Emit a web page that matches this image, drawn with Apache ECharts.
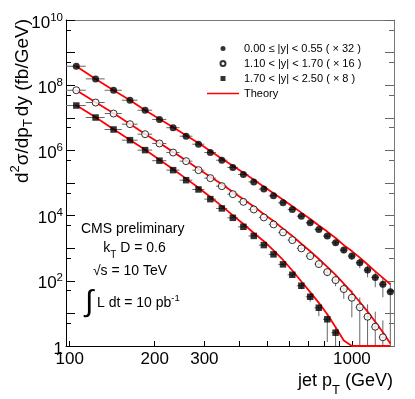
<!DOCTYPE html>
<html><head><meta charset="utf-8">
<script src="https://cdn.jsdelivr.net/npm/echarts@6/dist/echarts.min.js"></script>
<style>html,body{margin:0;padding:0;background:#fff}#c{width:415px;height:399px}</style>
</head><body><div id="c"></div>
<script>
// ---------- data ----------
const binEdges = [97,114,133,153,174,196,220,245,272,300,330,362,395,430,468,507,548,592,638,686,737,790,846,905,967,1032,1101,1172,1248,1327,1410];
const seriesNames = ['0.00 \u2264 |y| < 0.55 ( \u00d7 32 )','1.10 < |y| < 1.70 ( \u00d7 16 )','1.70 < |y| < 2.50 ( \u00d7 8 )'];
const theoryName = 'Theory';

const yCentral = [3.81e8,1.56e8,7.0e7,3.46e7,1.71e7,8.9e6,4.97e6,2.73e6,1.55e6,8.6e5,5.0e5,3.0e5,1.83e5,1.08e5,6.5e4,4.04e4,2.46e4,1.55e4,9.6e3,6.0e3,3.77e3,2.35e3,1.47e3,875,573,357,213,127,78,46];
const errCentralLo = [0.01,0.01,0.01,0.01,0.01,0.01,0.01,0.01,0.01,0.01,0.01,0.01,0.01,0.01,0.01,0.01,0.03,0.04,0.05,0.07,0.09,0.12,0.15,0.2,0.25,0.32,0.4,0.5,0.6,1.0];
const errCentralHi = [0.01,0.01,0.01,0.01,0.01,0.01,0.01,0.01,0.01,0.01,0.01,0.01,0.01,0.01,0.01,0.01,0.03,0.04,0.05,0.07,0.09,0.12,0.15,0.2,0.25,0.32,0.4,0.5,0.55,0.9];

const yMid = [7.0e7,2.94e7,1.35e7,6.37e6,3.14e6,1.63e6,8.6e5,4.68e5,2.48e5,1.41e5,8.0e4,4.55e4,2.64e4,1.55e4,8.8e3,5.37e3,3.05e3,1.77e3,986,573,326,185,105,55.8,30.2,15.4,7.9,3.9,1.85];
const errMidLo = [0.01,0.01,0.01,0.01,0.01,0.01,0.01,0.01,0.01,0.01,0.01,0.01,0.01,0.01,0.01,0.04,0.05,0.07,0.1,0.13,0.18,0.25,0.35,0.5,0.75,1,1,1,1];
const errMidHi = [0.01,0.01,0.01,0.01,0.01,0.01,0.01,0.01,0.01,0.01,0.01,0.01,0.01,0.01,0.01,0.04,0.05,0.07,0.1,0.13,0.18,0.25,0.35,0.5,0.7,1.0,1.4,1.9,2.3];

const yFwd = [2.38e7,1.02e7,4.38e6,2.06e6,1.02e6,4.84e5,2.48e5,1.22e5,6.34e4,3.2e4,1.66e4,8.55e3,4.53e3,2.38e3,1.245e3,646,319,153,70.5,32.4,14.9,6.6,2.56];
const errFwdLo = [0.01,0.01,0.01,0.01,0.01,0.01,0.01,0.01,0.01,0.01,0.01,0.01,0.01,0.03,0.05,0.07,0.1,0.15,0.22,0.3,0.45,0.8,1];
const errFwdHi = [0.01,0.01,0.01,0.01,0.01,0.01,0.01,0.01,0.01,0.01,0.01,0.01,0.01,0.03,0.05,0.07,0.1,0.15,0.22,0.3,0.45,0.5,0.6];

const thCentral = [3.81e8,1.556e8,7.01e7,3.46e7,1.71e7,9.18e6,5.15e6,2.87e6,1.69e6,9.53e5,5.57e5,3.38e5,2.08e5,1.25e5,7.62e4,4.85e4,3.05e4,1.95e4,1.234e4,7.85e3,5.0e3,3.23e3,2.06e3,1.245e3,815,515,317,195,123,78.3];
const thMid = [7.01e7,2.99e7,1.374e7,6.5e6,3.21e6,1.69e6,9.01e5,4.94e5,2.7e5,1.566e5,9.1e4,5.28e4,3.16e4,1.897e4,1.1e4,6.82e3,3.99e3,2.38e3,1.365e3,804,467,267,152,81.7,43.9,22.3,11.3,5.56,2.63,1.19];
const thFwd = [2.42e7,1.035e7,4.44e6,2.1e6,1.045e6,5.16e5,2.66e5,1.36e5,7.15e4,3.71e4,1.95e4,1.02e4,5.52e3,2.92e3,1.64e3,863,435,207,95.4,44.9,21.1,9.36,3.77,1.47,0.75,0.3,0.1,0.03,0.008,0.002];

const xTicks = [100,200,300,400,500,600,700,800,900,1000];
const xTickLabels = [100,200,300,1000];
const yDecadeTicks = [1,1e1,1e2,1e3,1e4,1e5,1e6,1e7,1e8,1e9,1e10];
const yHalfTicks = [5,5e1,5e2,5e3,5e4,5e5,5e6,5e7,5e8,5e9];
const yTickLabels = [1,1e2,1e4,1e6,1e8,1e10];

const X_MIN = 97, X_MAX = 1410, Y_MIN = 1, Y_MAX = 1e10;

// ---------- build ----------
const FONT = "'Liberation Sans', Arial, Helvetica, sans-serif";
function centers(n){ const c=[]; for(let i=0;i<n;i++) c.push((binEdges[i]+binEdges[i+1])/2); return c; }
function points(vals){ const c=centers(vals.length); return vals.map((v,i)=>[c[i],v]); }
function theoryPts(vals){ const c=centers(vals.length); return vals.map((v,i)=>[c[i],Math.max(v,Y_MIN)]); }
function errPts(vals, lo, hi){ const c=centers(vals.length); return vals.map((v,i)=>[c[i],v,binEdges[i],binEdges[i+1],v*(1-lo[i]),v*(1+hi[i])]); }

function errRender(params, api){
  const x=api.value(0), y=api.value(1), xl=api.value(2), xh=api.value(3);
  const yl=Math.max(api.value(4), Y_MIN), yh=api.value(5);
  const a=api.coord([xl,y]), b=api.coord([xh,y]), c=api.coord([x,yl]), d=api.coord([x,yh]);
  const st={stroke:'#666', lineWidth:1};
  return {type:'group', children:[
    {type:'line', shape:{x1:a[0],y1:a[1],x2:b[0],y2:b[1]}, style:st},
    {type:'line', shape:{x1:c[0],y1:c[1],x2:d[0],y2:d[1]}, style:st}
  ]};
}

const dataSets = [
  {name:seriesNames[0], vals:yCentral, lo:errCentralLo, hi:errCentralHi, th:thCentral, symbol:'circle', size:7, style:{color:'#000'}},
  {name:seriesNames[1], vals:yMid, lo:errMidLo, hi:errMidHi, th:thMid, symbol:'circle', size:7, style:{color:'#fff', borderColor:'#000', borderWidth:1}},
  {name:seriesNames[2], vals:yFwd, lo:errFwdLo, hi:errFwdHi, th:thFwd, symbol:'rect', size:6.5, style:{color:'#000'}}
];

const series = [];
dataSets.forEach(ds=>{
  series.push({type:'custom', name:ds.name+'_err', renderItem:errRender, data:errPts(ds.vals,ds.lo,ds.hi),
    encode:{x:0,y:1}, z:1, clip:true, silent:true, legendHoverLink:false});
});
dataSets.forEach(ds=>{
  series.push({type:'line', name:theoryName, data:theoryPts(ds.th), showSymbol:false, symbol:'none',
    lineStyle:{color:'#ff0000', width:1.8}, itemStyle:{color:'#ff0000'}, z:2, clip:true, animation:false});
});
dataSets.forEach(ds=>{
  series.push({type:'scatter', name:ds.name, data:points(ds.vals), symbol:ds.symbol, symbolSize:ds.size,
    itemStyle:ds.style, z:3, animation:false});
});

const axisCommon = {type:'log', logBase:10, splitLine:{show:false}, minorTick:{show:false}, minorSplitLine:{show:false}};

const option = {
  animation:false,
  backgroundColor:'#fff',
  grid:{left:66, top:20, right:21, bottom:53, containLabel:false},
  legend:{orient:'vertical', left:202, top:36, itemWidth:32, itemHeight:5, itemGap:0, selectedMode:false,
    textStyle:{fontFamily:FONT, fontSize:11, color:'#000', lineHeight:15},
    data:[
      {name:seriesNames[0], icon:'circle'},
      {name:seriesNames[1], icon:'circle'},
      {name:seriesNames[2], icon:'path://M0,0h10v10h-10z'},
      {name:theoryName, icon:'path://M0,0h64v3h-64z'}
    ]},
  xAxis:[
    Object.assign({}, axisCommon, {min:X_MIN, max:X_MAX, position:'bottom',
      axisLine:{show:true, onZero:false, lineStyle:{color:'#000', width:1}},
      axisTick:{show:true, inside:true, length:5, customValues:xTicks, lineStyle:{color:'#000'}},
      axisLabel:{show:true, customValues:xTickLabels, margin:5, fontFamily:FONT, fontSize:17, color:'#000',
        formatter:v=>String(Math.round(v))}}),
    Object.assign({}, axisCommon, {min:X_MIN, max:X_MAX, position:'top',
      axisLine:{show:true, onZero:false, lineStyle:{color:'#777', width:1}},
      axisTick:{show:false}, axisLabel:{show:false}})
  ],
  yAxis:[
    Object.assign({}, axisCommon, {min:Y_MIN, max:Y_MAX, position:'left',
      axisLine:{show:true, onZero:false, lineStyle:{color:'#000', width:1}},
      axisTick:{show:true, inside:true, length:9, customValues:yDecadeTicks, lineStyle:{color:'#000'}},
      axisLabel:{show:true, customValues:yTickLabels, margin:3, color:'#000', padding:[6,0,0,0],
        formatter:v=>{const n=Math.round(Math.log10(v)); return n===0?'{b|1}':'{b|10}{s|'+n+'}';},
        rich:{b:{fontFamily:FONT, fontSize:17, lineHeight:17, verticalAlign:'bottom', color:'#000'},
              s:{fontFamily:FONT, fontSize:11.5, lineHeight:12, padding:[0,0,8,0], verticalAlign:'bottom', color:'#000'}}}}),
    Object.assign({}, axisCommon, {min:Y_MIN, max:Y_MAX, position:'left',
      axisLine:{show:false, onZero:false},
      axisTick:{show:true, inside:true, length:5, customValues:yHalfTicks, lineStyle:{color:'#000'}},
      axisLabel:{show:false}}),
    Object.assign({}, axisCommon, {min:Y_MIN, max:Y_MAX, position:'right',
      axisLine:{show:true, onZero:false, lineStyle:{color:'#777', width:1}},
      axisTick:{show:true, inside:true, length:9, customValues:yDecadeTicks, lineStyle:{color:'#666'}},
      axisLabel:{show:false}}),
    Object.assign({}, axisCommon, {min:Y_MIN, max:Y_MAX, position:'right',
      axisLine:{show:false, onZero:false},
      axisTick:{show:true, inside:true, length:5, customValues:yHalfTicks, lineStyle:{color:'#666'}},
      axisLabel:{show:false}})
  ],
  series:series,
  graphic:[
    {type:'text', x:393, y:372, style:{text:'{a|jet p}{t|T}{a| (GeV)}', align:'right', verticalAlign:'top',
      rich:{a:{fontFamily:FONT, fontSize:18, lineHeight:21, verticalAlign:'top', fill:'#000'},
            t:{fontFamily:FONT, fontSize:13, lineHeight:13, padding:[12,0,0,0], verticalAlign:'top', fill:'#000'}}}},
    {type:'text', x:9, y:19, rotation:Math.PI/2, style:{text:'{a|d}{s|2}{a|\u03c3/dp}{t|T}{a|dy (fb/GeV)}', align:'right', verticalAlign:'top',
      rich:{a:{fontFamily:FONT, fontSize:19, lineHeight:21, padding:[4,0,0,0], verticalAlign:'top', fill:'#000'},
            s:{fontFamily:FONT, fontSize:13, lineHeight:13, verticalAlign:'top', fill:'#000'},
            t:{fontFamily:FONT, fontSize:13, lineHeight:13, padding:[13,3,0,0], verticalAlign:'top', fill:'#000'}}}},
    {type:'text', x:81, y:229, style:{text:'CMS preliminary', fontFamily:FONT, fontSize:14, fill:'#000', align:'left', verticalAlign:'middle'}},
    {type:'text', x:134.5, y:241, style:{text:'{a|k}{t|T}{a| D = 0.6}', align:'center', verticalAlign:'top',
      rich:{a:{fontFamily:FONT, fontSize:14, lineHeight:16, verticalAlign:'top', fill:'#000'},
            t:{fontFamily:FONT, fontSize:10, lineHeight:10, padding:[9,0,0,0], verticalAlign:'top', fill:'#000'}}}},
    {type:'text', x:130, y:271, style:{text:'\u221as = 10 TeV', fontFamily:FONT, fontSize:14, fill:'#000', align:'center', verticalAlign:'middle'}},
    {type:'text', x:89, y:303, style:{text:'\u222b', fontFamily:FONT, fontSize:30, fill:'#000', align:'center', verticalAlign:'middle'}},
    {type:'text', x:97, y:293, style:{text:'{a|L dt = 10 pb}{s|-1}', align:'left', verticalAlign:'top',
      rich:{a:{fontFamily:FONT, fontSize:14, lineHeight:16, padding:[3,0,0,0], verticalAlign:'top', fill:'#000'},
            s:{fontFamily:FONT, fontSize:9.5, lineHeight:10, verticalAlign:'top', fill:'#000'}}}}
  ]
};

const chart = echarts.init(document.getElementById('c'), null, {renderer:'canvas'});
chart.setOption(option);
</script>
</body></html>
